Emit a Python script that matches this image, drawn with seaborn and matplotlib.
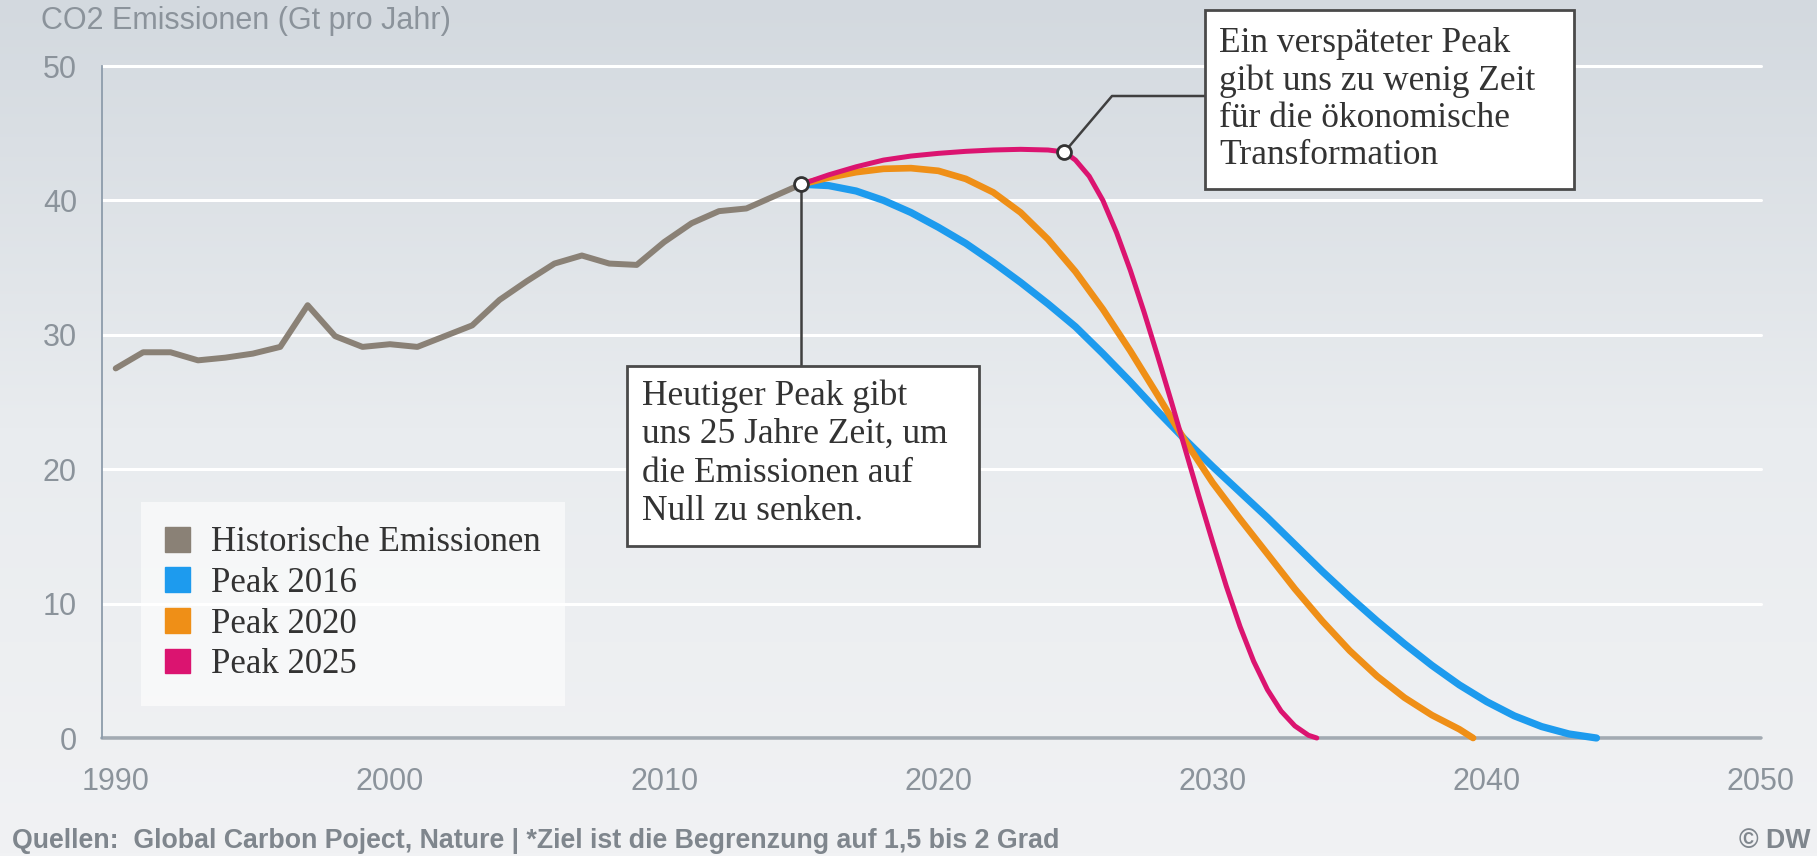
import numpy as np
import matplotlib
matplotlib.use('Agg')
from matplotlib import pyplot as plt
import matplotlib.patches as mpatches
from matplotlib.colors import LinearSegmentedColormap
import seaborn as sns

# figure size in pixels
W, H = 1817, 856

# historical emissions, Gt CO2 per year
hist_years = list(range(1990, 2016))
hist_vals = [27.5, 28.7, 28.7, 28.1, 28.3, 28.6, 29.1, 32.2, 29.9, 29.1,
             29.3, 29.1, 29.9, 30.7, 32.6, 34.0, 35.3, 35.9, 35.3, 35.2,
             36.9, 38.3, 39.2, 39.4, 40.3, 41.2]

# scenario: peak 2016
p16_years = list(range(2015, 2045))
p16_vals = [41.2, 41.1, 40.7, 40.0, 39.1, 38.0, 36.8, 35.4, 33.9, 32.3,
            30.6, 28.6, 26.5, 24.3, 22.2, 20.2, 18.3, 16.4, 14.4, 12.4,
            10.5, 8.7, 7.0, 5.4, 3.95, 2.7, 1.65, 0.85, 0.3, 0.0]

# scenario: peak 2020
p20_years = list(range(2015, 2040)) + [2039.5]
p20_vals = [41.2, 41.7, 42.1, 42.35, 42.4, 42.2, 41.6, 40.6, 39.1, 37.1,
            34.7, 31.9, 28.8, 25.5, 22.1, 19.0, 16.3, 13.7, 11.1, 8.7,
            6.5, 4.6, 3.0, 1.7, 0.65, 0.0]

# scenario: peak 2025
p25_years = [2015, 2016, 2017, 2018, 2019, 2020, 2021, 2022, 2023, 2024,
             2024.6, 2025, 2025.5, 2026, 2026.5, 2027, 2027.5, 2028, 2028.5, 2029,
             2029.5, 2030, 2030.5, 2031, 2031.5, 2032, 2032.5, 2033, 2033.5, 2033.8]
p25_vals = [41.2, 41.9, 42.5, 43.0, 43.3, 43.5, 43.65, 43.75, 43.8, 43.75,
            43.6, 43.0, 41.8, 40.0, 37.6, 34.8, 31.7, 28.4, 25.0, 21.5,
            18.0, 14.6, 11.3, 8.3, 5.7, 3.6, 2.0, 0.9, 0.2, 0.0]
late_peak_year = 2024.6

series_labels = ['Historische Emissionen', 'Peak 2016', 'Peak 2020', 'Peak 2025']
series_colors = ['#8a8176', '#1d9bee', '#ef8f17', '#db1470']

x_ticks = [1990, 2000, 2010, 2020, 2030, 2040, 2050]
y_ticks = [0, 10, 20, 30, 40, 50]

title = 'CO2 Emissionen (Gt pro Jahr)'
note_now = 'Heutiger Peak gibt\nuns 25 Jahre Zeit, um\ndie Emissionen auf\nNull zu senken.'
note_late = 'Ein verspäteter Peak\ngibt uns zu wenig Zeit\nfür die ökonomische\nTransformation'
footer = 'Quellen:  Global Carbon Poject, Nature | *Ziel ist die Begrenzung auf 1,5 bis 2 Grad'

sns.set_style('white')
plt.rcParams['font.family'] = ['Liberation Sans', 'DejaVu Sans']

SERIF = ['Liberation Serif', 'DejaVu Serif']
GREY_TXT = '#8b939b'


def px_rect(l, t, r, b):
    return [l / W, 1 - b / H, (r - l) / W, (b - t) / H]


fig = plt.figure(figsize=(W / 100, H / 100), dpi=100)

# soft grey gradient background
bg = fig.add_axes([0, 0, 1, 1], zorder=-10)
cmap = LinearSegmentedColormap.from_list('bg', ['#f1f2f4', '#e9ecef', '#d3d9df'])
grad = np.linspace(0, 1, 256).reshape(-1, 1)
bg.imshow(grad, aspect='auto', cmap=cmap, extent=[0, 1, 0, 1], origin='lower')
bg.axis('off')

ax = fig.add_axes(px_rect(102, 66, 1761, 738))
ax.set_facecolor('none')
ax.set_xlim(1989.5, 2050)
ax.set_ylim(0, 50)

ax.set_xticks(x_ticks)
ax.set_yticks(y_ticks)
ax.yaxis.grid(True, color='white', lw=2.2)
ax.xaxis.grid(False)
for gl in ax.get_ygridlines():
    gl.set_clip_on(False)
ax.axhline(0, color='#a2aab2', lw=2.6, zorder=1.5, clip_on=False)

for s in ['top', 'right', 'bottom']:
    ax.spines[s].set_visible(False)
ax.spines['left'].set_color('#8d9cab')
ax.spines['left'].set_linewidth(1.3)
ax.tick_params(axis='both', length=0, labelsize=22, labelcolor=GREY_TXT)
ax.tick_params(axis='y', pad=18)
ax.tick_params(axis='x', pad=21)

line_kw = dict(solid_joinstyle='round', solid_capstyle='round', clip_on=False, legend=False)
sns.lineplot(x=hist_years, y=hist_vals, ax=ax, color=series_colors[0], lw=4.3, **line_kw)
sns.lineplot(x=p16_years, y=p16_vals, ax=ax, color=series_colors[1], lw=5.2, **line_kw)
sns.lineplot(x=p20_years, y=p20_vals, ax=ax, color=series_colors[2], lw=4.8, **line_kw)
sns.lineplot(x=p25_years, y=p25_vals, ax=ax, color=series_colors[3], lw=3.6, **line_kw)
ax.set_xlabel('')
ax.set_ylabel('')

# peak markers
now_pt = (hist_years[-1], hist_vals[-1])
late_pt = (late_peak_year, p25_vals[p25_years.index(late_peak_year)])

inv = ax.transData.inverted()


def to_data(px, py):
    # figure pixel (from top-left) -> data coords
    return inv.transform((px, H - py))


# connector lines
box_top = to_data(0, 366)[1]
ax.plot([now_pt[0], now_pt[0]], [now_pt[1], box_top], color='#3f3f3f', lw=1.8,
        clip_on=False, zorder=5)
elbow = to_data(1112, 96)
box2_edge = to_data(1205, 96)
ax.plot([late_pt[0], elbow[0], box2_edge[0]], [late_pt[1], elbow[1], box2_edge[1]],
        color='#3f3f3f', lw=1.8, clip_on=False, zorder=5)

for pt in [now_pt, late_pt]:
    ax.plot(pt[0], pt[1], marker='o', ms=10, mfc='white', mec='#333333', mew=2,
            zorder=7, clip_on=False)

# annotation boxes
for (l, t, r, b) in [(627, 366, 979, 546), (1205, 10, 1574, 189)]:
    fig.add_artist(mpatches.Rectangle((l / W, 1 - b / H), (r - l) / W, (b - t) / H,
                                      transform=fig.transFigure, fc='white',
                                      ec='#4a4a4a', lw=2, zorder=8))
fig.text(642 / W, 1 - 379 / H, note_now, va='top', ha='left', family=SERIF,
         size=25.5, color='#333333', linespacing=1.22, zorder=9)
fig.text(1219 / W, 1 - 27 / H, note_late, va='top', ha='left', family=SERIF,
         size=25.5, color='#333333', linespacing=1.17, zorder=9)

# legend with square swatches
handles = [mpatches.Patch(color=c, label=l) for c, l in zip(series_colors, series_labels)]
leg = ax.legend(handles=handles, loc='upper left', bbox_to_anchor=(141 / W, 1 - 502 / H),
                bbox_transform=fig.transFigure, frameon=True, fancybox=False,
                framealpha=0.6, facecolor='white', edgecolor='none',
                prop={'family': SERIF, 'size': 25}, handlelength=0.72,
                handleheight=0.72, handletextpad=0.6, labelspacing=0.22,
                borderpad=0.7, borderaxespad=0)
for t in leg.get_texts():
    t.set_color('#333333')

# title, footer
fig.text(41 / W, 1 - 6 / H, title, va='top', ha='left', size=22, color=GREY_TXT)
fig.text(12 / W, 1 - 841 / H, footer, va='center', ha='left', size=19.3,
         weight='bold', color='#7f868d')
fig.text(1810 / W, 1 - 841 / H, '© DW', va='center', ha='right', size=19.3,
         weight='bold', color='#7f868d')

fig.savefig('out.png', dpi=100)
